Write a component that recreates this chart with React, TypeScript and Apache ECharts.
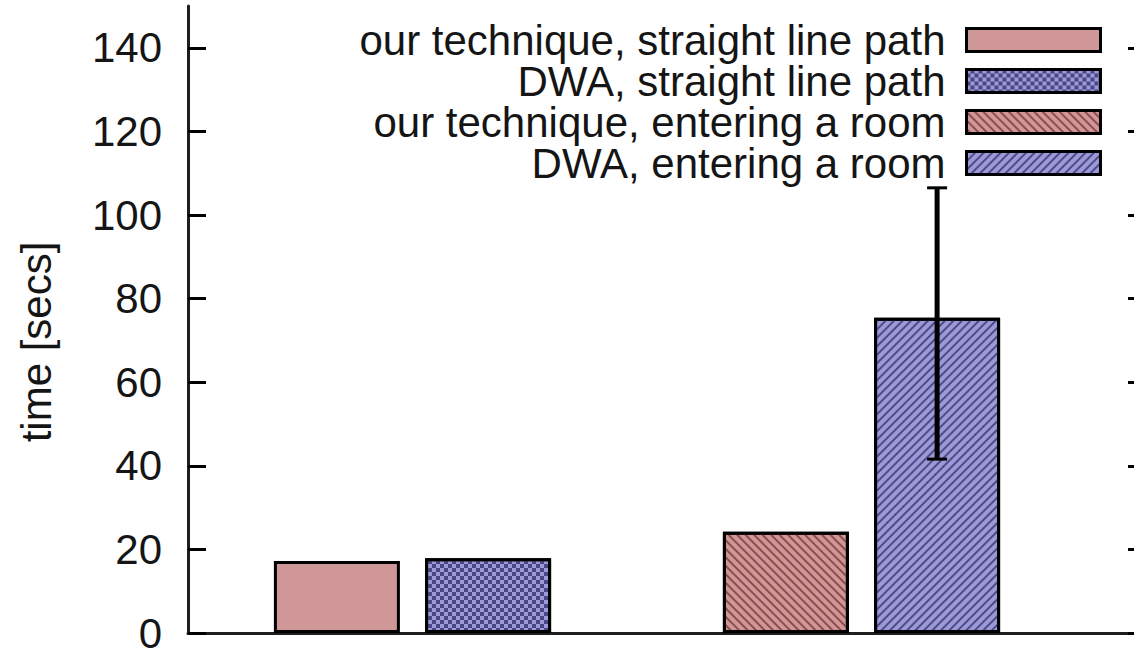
import React, { useEffect, useRef } from "react";
import * as echarts from "echarts";

const CATEGORIES = ["straight line path", "entering a room"];
const SERIES_NAMES = [
  "our technique, straight line path",
  "DWA, straight line path",
  "our technique, entering a room",
  "DWA, entering a room",
];
const OUR_TECHNIQUE = [17.2, 24.2];
const DWA = [17.9, 75.4];
const DWA_ERR_LOW = [null, 41.6];
const DWA_ERR_HIGH = [null, 106.5];
const Y_TICKS = [0, 20, 40, 60, 80, 100, 120, 140];
const Y_MAX = 150;

const FONT = "'Liberation Sans', Arial, Helvetica, sans-serif";
const PINK = "#cf9797";
const BLUE = "#9c99d4";
const BAR_W = 126;
const BAR_GAP = 0.2;

export default function App() {
  const ref = useRef<HTMLDivElement>(null);
  useEffect(() => {
    if (!ref.current) return;
    const chart = echarts.init(ref.current, undefined, { renderer: "svg" });
    const border = { borderColor: "#000", borderWidth: 3 };
    const errData = CATEGORIES.map((_, i) =>
      DWA_ERR_LOW[i] == null ? null : [i, DWA_ERR_LOW[i], DWA_ERR_HIGH[i]]
    ).filter((d) => d !== null);
    chart.setOption({
      animation: false,
      backgroundColor: "#fff",
      textStyle: { fontFamily: FONT },
      grid: [
        { left: 188, right: 48, top: 6, bottom: 23 },
        { left: 188, right: 0, top: 6, bottom: 23 },
      ],
      xAxis: [
        { type: "category", data: CATEGORIES, gridIndex: 0, show: false },
        {
          type: "value",
          gridIndex: 1,
          min: 0,
          max: 1,
          axisLine: { show: true, onZero: false, lineStyle: { color: "#1e1e1e", width: 3 } },
          axisTick: { show: false },
          axisLabel: { show: false },
          splitLine: { show: false },
        },
      ],
      yAxis: [
        { type: "value", gridIndex: 0, min: 0, max: Y_MAX, show: false },
        {
          type: "value",
          gridIndex: 1,
          min: 0,
          max: Y_MAX,
          interval: 20,
          position: "left",
          axisLine: { show: true, lineStyle: { color: "#1e1e1e", width: 3 } },
          axisTick: {
            show: true,
            inside: true,
            length: 18,
            customValues: Y_TICKS,
            lineStyle: { color: "#000", width: 3 },
          },
          axisLabel: {
            customValues: Y_TICKS,
            margin: 26,
            fontSize: 42,
            color: "#151515",
            fontFamily: FONT,
          },
          splitLine: { show: false },
        },
        {
          type: "value",
          gridIndex: 1,
          min: 0,
          max: Y_MAX,
          interval: 20,
          position: "right",
          axisLine: { show: false },
          axisTick: {
            show: true,
            inside: true,
            length: 6,
            customValues: Y_TICKS,
            lineStyle: { color: "#000", width: 3 },
          },
          axisLabel: { show: false },
          splitLine: { show: false },
        },
      ],
      legend: {
        data: SERIES_NAMES,
        orient: "vertical",
        align: "right",
        right: 32,
        top: 19,
        padding: 0,
        itemWidth: 134,
        itemHeight: 23,
        itemGap: -1,
        icon: "rect",
        selectedMode: false,
        itemStyle: { borderColor: "#000", borderWidth: 3 },
        textStyle: {
          fontSize: 42,
          lineHeight: 30,
          color: "#151515",
          fontFamily: FONT,
          padding: [0, 16, 0, 0],
        },
      },
      graphic: [
        {
          type: "text",
          x: 36,
          y: 342,
          rotation: Math.PI / 2,
          style: {
            text: "time [secs]",
            font: `42px ${FONT}`,
            fill: "#151515",
            align: "center",
            verticalAlign: "middle",
          },
        },
      ],
      series: [
        {
          name: SERIES_NAMES[0],
          type: "bar",
          stack: "our",
          xAxisIndex: 0,
          yAxisIndex: 0,
          barWidth: BAR_W,
          barGap: `${BAR_GAP * 100}%`,
          data: [OUR_TECHNIQUE[0], "-"],
          itemStyle: { color: PINK, ...border },
        },
        {
          name: SERIES_NAMES[1],
          type: "bar",
          stack: "dwa",
          xAxisIndex: 0,
          yAxisIndex: 0,
          barWidth: BAR_W,
          barGap: `${BAR_GAP * 100}%`,
          data: [DWA[0], "-"],
          itemStyle: {
            color: BLUE,
            ...border,
            decal: {
              symbol: "rect",
              symbolSize: 1,
              color: "#4a4788",
              dashArrayX: [[4, 4], [0, 4, 4, 0]],
              dashArrayY: [4, 0],
              rotation: 0,
            },
          },
        },
        {
          name: SERIES_NAMES[2],
          type: "bar",
          stack: "our",
          xAxisIndex: 0,
          yAxisIndex: 0,
          barWidth: BAR_W,
          barGap: `${BAR_GAP * 100}%`,
          data: ["-", OUR_TECHNIQUE[1]],
          itemStyle: {
            color: PINK,
            ...border,
            decal: {
              symbol: "rect",
              symbolSize: 1,
              color: "#8e4c4c",
              dashArrayX: [1, 0],
              dashArrayY: [2, 3.5],
              rotation: Math.PI / 4,
            },
          },
        },
        {
          name: SERIES_NAMES[3],
          type: "bar",
          stack: "dwa",
          xAxisIndex: 0,
          yAxisIndex: 0,
          barWidth: BAR_W,
          barGap: `${BAR_GAP * 100}%`,
          data: ["-", DWA[1]],
          itemStyle: {
            color: BLUE,
            ...border,
            decal: {
              symbol: "rect",
              symbolSize: 1,
              color: "#4d4a8e",
              dashArrayX: [1, 0],
              dashArrayY: [2, 3.5],
              rotation: -Math.PI / 4,
            },
          },
        },
        {
          name: "error",
          type: "custom",
          xAxisIndex: 0,
          yAxisIndex: 0,
          z: 10,
          data: errData,
          renderItem: (params: any, api: any) => {
            const ci = api.value(0);
            const lo = api.coord([ci, api.value(1)]);
            const hi = api.coord([ci, api.value(2)]);
            const x = lo[0] + (BAR_W * (1 + BAR_GAP)) / 2;
            const cap = 10;
            return {
              type: "group",
              children: [
                { type: "line", shape: { x1: x, y1: lo[1], x2: x, y2: hi[1] }, style: { stroke: "#000", lineWidth: 5 } },
                { type: "line", shape: { x1: x - cap, y1: hi[1], x2: x + cap, y2: hi[1] }, style: { stroke: "#000", lineWidth: 3 } },
                { type: "line", shape: { x1: x - cap, y1: lo[1], x2: x + cap, y2: lo[1] }, style: { stroke: "#000", lineWidth: 3 } },
              ],
            };
          },
        },
      ],
    });
    return () => chart.dispose();
  }, []);
  return (
    <div
      ref={ref}
      style={{ position: "fixed", left: 0, top: 0, width: 1134, height: 656, background: "#fff" }}
    />
  );
}
